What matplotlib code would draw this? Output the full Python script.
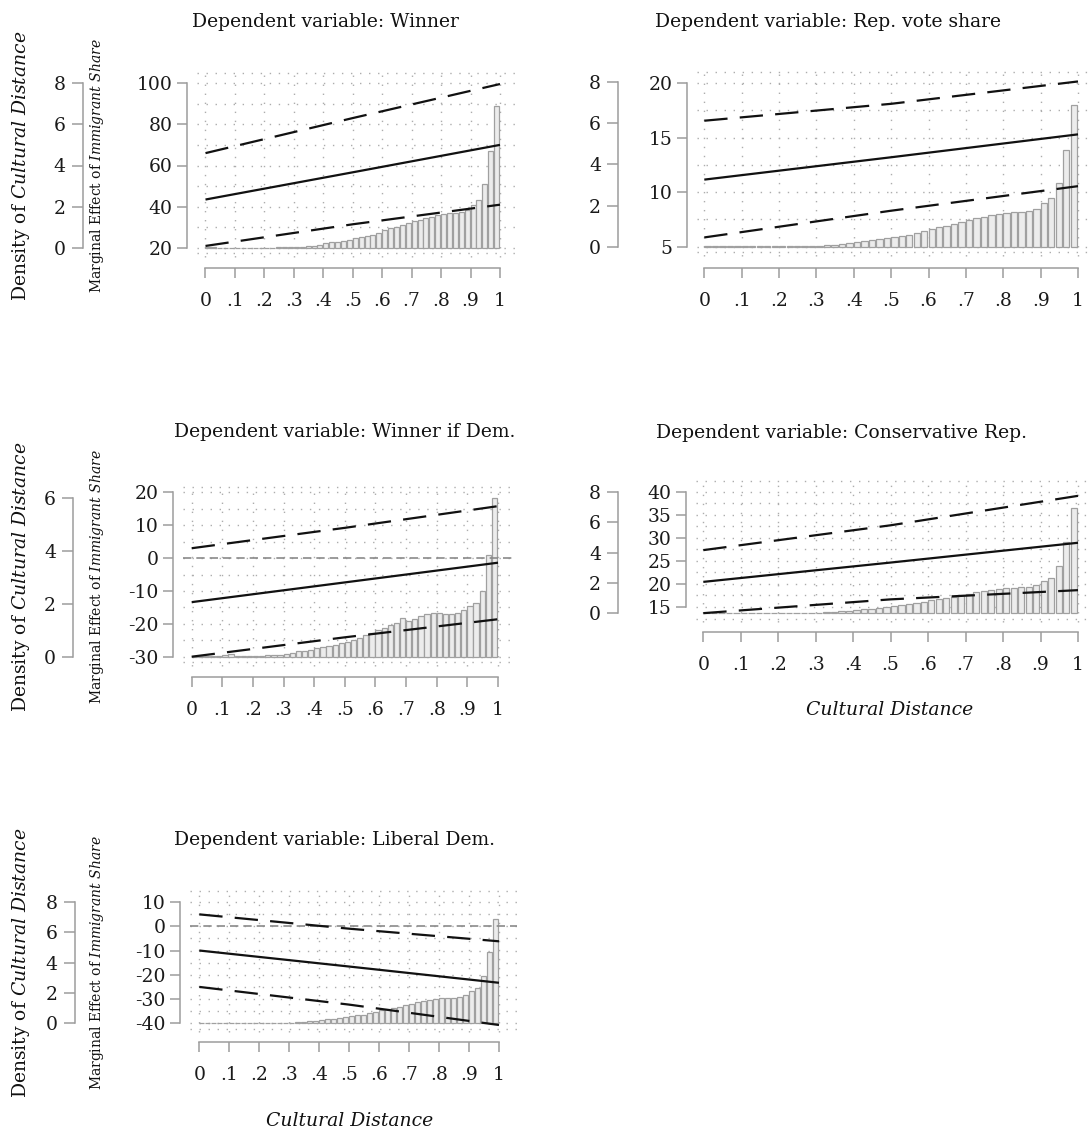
import numpy as np
import matplotlib
matplotlib.use('Agg')
import matplotlib.pyplot as plt

plt.rcParams['font.family'] = 'DejaVu Serif'
plt.rcParams['mathtext.fontset'] = 'custom'
plt.rcParams['mathtext.rm'] = 'DejaVu Serif'
plt.rcParams['mathtext.it'] = 'DejaVu Serif:italic'

# histogram of cultural distance, 50 bins of width .02
bin_left = np.linspace(0, 0.98, 50)
density_all = [0.04, 0.03, 0.02, 0.02, 0.02, 0.02, 0.02, 0.02, 0.02, 0.02,
               0.02, 0.02, 0.03, 0.03, 0.04, 0.05, 0.07, 0.09, 0.12, 0.16,
               0.22, 0.27, 0.31, 0.35, 0.40, 0.48, 0.53, 0.58, 0.65, 0.74,
               0.88, 0.96, 1.02, 1.10, 1.20, 1.30, 1.38, 1.45, 1.52, 1.58,
               1.66, 1.68, 1.70, 1.74, 1.85, 2.10, 2.35, 3.10, 4.70, 6.90]
density_dem = [0.03, 0.03, 0.02, 0.02, 0.03, 0.05, 0.10, 0.04, 0.03, 0.03,
               0.03, 0.04, 0.05, 0.05, 0.08, 0.10, 0.15, 0.20, 0.22, 0.27,
               0.32, 0.36, 0.42, 0.45, 0.50, 0.57, 0.62, 0.70, 0.80, 0.90,
               1.00, 1.10, 1.20, 1.28, 1.45, 1.36, 1.42, 1.55, 1.62, 1.65,
               1.64, 1.62, 1.62, 1.66, 1.75, 1.92, 2.04, 2.46, 3.84, 6.00]

# marginal effect of immigrant share, evaluated at cultural distance 0, .5, 1
cd_eval = [0, 0.5, 1]
winner_me = [43.5, 56.7, 70.0]
winner_hi = [66.0, 83.0, 99.5]
winner_lo = [21.0, 31.5, 41.0]
rep_me = [11.15, 13.2, 15.3]
rep_hi = [16.55, 18.1, 20.15]
rep_lo = [5.85, 8.3, 10.55]
dem_me = [-13.4, -7.4, -1.4]
dem_hi = [3.0, 9.2, 15.8]
dem_lo = [-30.0, -24.1, -18.6]
cons_me = [20.4, 24.6, 28.9]
cons_hi = [27.3, 32.7, 39.1]
cons_lo = [13.6, 16.6, 18.6]
lib_me = [-10.0, -16.6, -23.3]
lib_hi = [4.9, -1.0, -6.2]
lib_lo = [-25.0, -32.3, -40.7]

titles = ['Dependent variable: Winner', 'Dependent variable: Rep. vote share',
          'Dependent variable: Winner if Dem.', 'Dependent variable: Conservative Rep.',
          'Dependent variable: Liberal Dem.']
me_ticks = [[20, 40, 60, 80, 100], [5, 10, 15, 20], [-30, -20, -10, 0, 10, 20],
            [15, 20, 25, 30, 35, 40], [-40, -30, -20, -10, 0, 10]]
dens_ticks = [[0, 2, 4, 6, 8], [0, 2, 4, 6, 8], [0, 2, 4, 6], [0, 2, 4, 6, 8], [0, 2, 4, 6, 8]]
x_ticks = [0, .1, .2, .3, .4, .5, .6, .7, .8, .9, 1]
x_labels = ['0', '.1', '.2', '.3', '.4', '.5', '.6', '.7', '.8', '.9', '1']

W, H = 1089, 1133
fig = plt.figure(figsize=(W / 100, H / 100), dpi=100)

GRAY = '#9c9c9c'
DOT = '#adadad'


def pt(px):
    return px * 72 / 100


def panel(i, hist, me, hi, lo, lay):
    # lay holds pixel positions of the reference layout
    px0, px1 = lay['px0'], lay['px1']
    yd0, ydt = lay['yd0'], lay['ydt']
    dtop = dens_ticks[i][-1]
    left = lay['mespine'] + 10
    right = min(px1 + 18, W - 1)
    top = ydt - 12
    bot = yd0 + 9
    ax = fig.add_axes([left / W, 1 - bot / H, (right - left) / W, (bot - top) / H])
    sx = px1 - px0
    ax.set_xlim((left - px0) / sx, (right - px0) / sx)
    sy = (yd0 - ydt) / dtop
    d_lo, d_hi = (yd0 - bot) / sy, (yd0 - top) / sy
    ax.set_ylim(d_lo, d_hi)
    m0, mt = lay['me_d0'], lay['me_dt']
    to_me = lambda d: m0 + (mt - m0) * d / dtop
    to_d = lambda m: (m - m0) / (mt - m0) * dtop

    # dotted grid
    for x in x_ticks:
        ax.plot([x, x], [d_lo, d_hi], color=DOT, lw=1.0, ls=(0, (1, 5.5)), zorder=0,
                clip_on=False)
    step = (me_ticks[i][1] - me_ticks[i][0]) / 2
    rows = list(np.arange(me_ticks[i][0], me_ticks[i][-1] + step / 2, step))
    rows_d = [to_d(r) for r in rows] + [d_lo + 0.02 * (d_hi - d_lo), d_hi - 0.01 * (d_hi - d_lo)]
    for r in rows_d:
        ax.axhline(r, color=DOT, lw=1.0, ls=(0, (1, 5.5)), zorder=0)

    ax.bar(bin_left, hist, width=0.017, align='edge', color='#ececec',
           edgecolor='#a0a0a0', linewidth=0.9, zorder=1)

    axm = ax.twinx()
    axm.set_ylim(to_me(d_lo), to_me(d_hi))
    if lay['zero']:
        axm.axhline(0, color='#8a8a8a', lw=1.2, ls=(0, (5, 3)), zorder=1)
    axm.plot(cd_eval, me, color='#111111', lw=1.6, solid_capstyle='butt', zorder=3)
    axm.plot(cd_eval, hi, color='#111111', lw=1.6, ls=(0, (10.5, 5.5)), zorder=3)
    axm.plot(cd_eval, lo, color='#111111', lw=1.6, ls=(0, (10.5, 5.5)), zorder=3)

    for a in (ax, axm):
        for s in ('top', 'right', 'bottom', 'left'):
            a.spines[s].set_visible(False)
    axm.yaxis.tick_left()
    axm.spines['left'].set_visible(True)
    axm.spines['left'].set_position(('outward', pt(left - lay['mespine'])))
    axm.spines['left'].set_bounds(me_ticks[i][0], me_ticks[i][-1])
    axm.spines['left'].set_color(GRAY)
    axm.spines['left'].set_linewidth(1.1)
    axm.set_yticks(me_ticks[i])
    axm.set_yticklabels([str(t) for t in me_ticks[i]])
    axm.tick_params(axis='y', length=7.2, width=1.1, color=GRAY, labelcolor='#1a1a1a',
                    labelsize=13.5, pad=3, left=True, right=False, labelleft=True,
                    labelright=False)

    ax.spines['left'].set_visible(True)
    ax.spines['left'].set_position(('outward', pt(left - lay['dspine'])))
    ax.spines['left'].set_bounds(0, dtop)
    ax.spines['left'].set_color(GRAY)
    ax.spines['left'].set_linewidth(1.1)
    ax.set_yticks(dens_ticks[i])
    ax.set_yticklabels([str(t) for t in dens_ticks[i]])
    ax.tick_params(axis='y', length=7.9, width=1.1, color=GRAY, labelcolor='#1a1a1a',
                   labelsize=13.5, pad=4.5)

    ax.spines['bottom'].set_visible(True)
    ax.spines['bottom'].set_position(('outward', pt(lay['xaxis'] - bot)))
    ax.spines['bottom'].set_bounds(0, 1)
    ax.spines['bottom'].set_color(GRAY)
    ax.spines['bottom'].set_linewidth(1.1)
    ax.set_xticks(x_ticks)
    ax.set_xticklabels(x_labels)
    ax.tick_params(axis='x', length=7.2, width=1.1, color=GRAY, labelcolor='#1a1a1a',
                   labelsize=13.5, pad=10)

    tx, ty = lay['title']
    fig.text(tx / W, 1 - ty / H, titles[i], ha='center', va='center', fontsize=13.5,
             color='#111111')
    if lay['ylab']:
        cy = (yd0 + ydt) / 2
        fig.text(20.7 / W, 1 - cy / H, r'Density of $\mathit{Cultural\ Distance}$',
                 rotation=90, ha='center', va='center', fontsize=13.5, color='#111111')
        fig.text(97 / W, 1 - cy / H, r'Marginal Effect of $\mathit{Immigrant\ Share}$',
                 rotation=90, ha='center', va='center', fontsize=10, color='#111111')
    if lay['xlab']:
        lx, ly = lay['xlab']
        fig.text(lx / W, 1 - ly / H, 'Cultural Distance', style='italic', ha='center',
                 va='center', fontsize=13.5, color='#111111')


layouts = [
    dict(px0=205.5, px1=500, yd0=248, ydt=83, me_d0=20, me_dt=100, dspine=82.7,
         mespine=187, xaxis=268, title=(325, 22), ylab=True, xlab=None, zero=False),
    dict(px0=704.3, px1=1078, yd0=246.7, ydt=82, me_d0=5, me_dt=20.1, dspine=618.3,
         mespine=686.7, xaxis=267.7, title=(828, 22), ylab=False, xlab=None, zero=False),
    dict(px0=191.7, px1=498, yd0=656.7, ydt=497.6, me_d0=-30, me_dt=18.4, dspine=73.3,
         mespine=172.7, xaxis=676.7, title=(345, 432), ylab=True, xlab=None, zero=True),
    dict(px0=703.3, px1=1078, yd0=613.3, ydt=491.7, me_d0=13.57, me_dt=40, dspine=618.3,
         mespine=686, xaxis=631.7, title=(841, 433), ylab=False, xlab=(890, 710), zero=False),
    dict(px0=199.3, px1=499, yd0=1023.3, ydt=902, me_d0=-40, me_dt=10, dspine=75,
         mespine=180, xaxis=1041.7, title=(334, 840), ylab=True, xlab=(350, 1121), zero=True),
]

panel(0, density_all, winner_me, winner_hi, winner_lo, layouts[0])
panel(1, density_all, rep_me, rep_hi, rep_lo, layouts[1])
panel(2, density_dem, dem_me, dem_hi, dem_lo, layouts[2])
panel(3, density_all, cons_me, cons_hi, cons_lo, layouts[3])
panel(4, density_all, lib_me, lib_hi, lib_lo, layouts[4])

fig.savefig('out.png', dpi=100)
